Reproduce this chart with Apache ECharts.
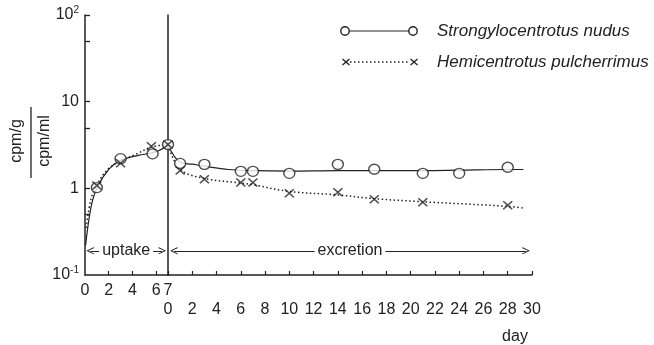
<!DOCTYPE html>
<html>
<head>
<meta charset="utf-8">
<title>Uptake and excretion</title>
<script src="https://cdn.jsdelivr.net/npm/echarts@6/dist/echarts.min.js"></script>
<style>
  html, body { margin: 0; padding: 0; background: #fff; }
  #chart { width: 654px; height: 345px; }
</style>
</head>
<body>
<div id="chart"></div>
<script>
// Tick values for the two time axes
const uptakeLabelDays = [0, 2, 4, 6, 7];
const uptakeTickDays = [2, 4, 6];
const yLabelValues = [0.1, 1, 10, 100];
const yTickValues = [0.5, 1, 5, 10, 50, 100];

// Strongylocentrotus nudus — measured points
const nudusUptakeDay = [1, 3, 5.7, 7];
const nudusUptake = [1.02, 2.2, 2.5, 3.2];
const nudusExcrDay = [1, 3, 6, 7, 10, 14, 17, 21, 24, 28];
const nudusExcr = [1.94, 1.89, 1.57, 1.57, 1.49, 1.89, 1.66, 1.49, 1.49, 1.75];

// Hemicentrotus pulcherrimus — measured points
const pulchUptakeDay = [1, 3, 5.6, 7];
const pulchUptake = [1.08, 1.95, 3.05, 3.2];
const pulchExcrDay = [1, 3, 6, 7, 10, 14, 17, 21, 28];
const pulchExcr = [1.61, 1.27, 1.17, 1.17, 0.875, 0.9, 0.75, 0.69, 0.64];

// Hand-fitted curves through each data set
const nudusUptakeFitDay = [0.05, 0.5, 1, 2, 3, 4.5, 6, 7];
const nudusUptakeFit = [0.22, 0.6, 1.0, 1.65, 2.1, 2.4, 2.65, 3.15];
const pulchUptakeFitDay = [0.1, 0.5, 1, 2, 3, 4.5, 5.6, 7];
const pulchUptakeFit = [0.35, 0.75, 1.1, 1.7, 2.05, 2.55, 3.0, 3.2];
const nudusExcrFitDay = [0, 1, 2, 3, 5, 7, 10, 14, 17, 21, 24, 28, 29.3];
const nudusExcrFit = [3.15, 2.0, 1.9, 1.8, 1.65, 1.6, 1.58, 1.6, 1.6, 1.6, 1.62, 1.65, 1.65];
const pulchExcrFitDay = [0, 1, 3, 6, 7, 10, 14, 17, 21, 28, 29.4];
const pulchExcrFit = [3.15, 1.65, 1.3, 1.15, 1.1, 0.92, 0.84, 0.76, 0.7, 0.62, 0.59];

// Phase annotations (day range of the arrow, level)
const uptakeSpan = [0.45, 6.5];
const excretionSpan = [0.5, 29.5];
const phaseLevel = 0.19;

const zip = (xs, ys) => xs.map((x, i) => [x, ys[i]]);

const INK = '#222';
const FONT = 'Liberation Sans, Arial, Helvetica, sans-serif';
const crossPath = 'path://M0,0L10,10M10,0L0,10';
const chevron = 'path://M5,0L10,9L9,10L5,2.5L1,10L0,9Z';

function yLabel(v) {
  if (v === 100) return '{b|10}{s|2}';
  if (v === 10) return '{b|10}';
  if (v === 1) return '{b|1}';
  return '{b|10}{s|-1}';
}

const chart = echarts.init(document.getElementById('chart'), null, { renderer: 'canvas' });

const logAxisBase = {
  type: 'log', logBase: 10, min: 0.1, max: 100,
  splitLine: { show: false }
};

const circleStyle = { color: '#fff', borderColor: INK, borderWidth: 1.4 };
const crossStyle = { color: 'none', borderColor: INK, borderWidth: 1.5 };

function legendCross(cx, cy) {
  return [
    { type: 'line', shape: { x1: cx - 3.5, y1: cy - 3, x2: cx + 3.5, y2: cy + 3 }, style: { stroke: INK, lineWidth: 1.3 } },
    { type: 'line', shape: { x1: cx + 3.5, y1: cy - 3, x2: cx - 3.5, y2: cy + 3 }, style: { stroke: INK, lineWidth: 1.3 } }
  ];
}

function phaseLabel(text) {
  return {
    show: true, position: 'middle', formatter: text, distance: 0,
    verticalAlign: 'middle', align: 'center',
    fontSize: 16, fontFamily: FONT, color: INK,
    backgroundColor: '#fff', padding: [0, 3]
  };
}

const option = {
  backgroundColor: '#fff',
  animation: false,
  textStyle: { fontFamily: FONT, color: INK },
  grid: [
    { left: 85, top: 15, width: 83, height: 260 },
    { left: 168, top: 15, width: 364, height: 260 }
  ],
  xAxis: [
    {
      type: 'value', gridIndex: 0, min: 0, max: 7,
      splitLine: { show: false },
      axisLine: { lineStyle: { color: INK, width: 1.5 } },
      axisTick: { inside: true, length: 4, customValues: uptakeTickDays, lineStyle: { color: INK, width: 1.2 } },
      axisLabel: { customValues: uptakeLabelDays, margin: 8, fontSize: 16, color: INK, fontFamily: FONT }
    },
    {
      type: 'value', gridIndex: 1, min: 0, max: 30, interval: 2,
      splitLine: { show: false },
      axisLine: { lineStyle: { color: INK, width: 1.5 } },
      axisTick: { inside: true, length: 4, lineStyle: { color: INK, width: 1.2 } },
      axisLabel: { margin: 27, fontSize: 16, color: INK, fontFamily: FONT, showMinLabel: true, showMaxLabel: true }
    }
  ],
  yAxis: [
    Object.assign({}, logAxisBase, {
      gridIndex: 0,
      axisLine: { show: true, lineStyle: { color: INK, width: 1.5 } },
      axisTick: { show: true, inside: true, length: 5, customValues: yTickValues, lineStyle: { color: INK, width: 1.3 } },
      axisLabel: {
        customValues: yLabelValues, margin: 6, color: INK,
        formatter: yLabel,
        rich: {
          b: { fontSize: 16, fontFamily: FONT, color: INK },
          s: { fontSize: 10, fontFamily: FONT, color: INK, padding: [0, 0, 9, 0] }
        }
      }
    }),
    Object.assign({}, logAxisBase, {
      gridIndex: 1,
      axisLine: { show: true, lineStyle: { color: INK, width: 1.5 } },
      axisTick: { show: false },
      axisLabel: { show: false }
    })
  ],
  series: [
    // fitted curves, uptake period
    {
      type: 'line', xAxisIndex: 0, yAxisIndex: 0, smooth: 0.35, symbol: 'none',
      data: zip(nudusUptakeFitDay, nudusUptakeFit),
      lineStyle: { color: INK, width: 1.2 },
      markLine: {
        silent: true, symbol: [chevron, chevron], symbolSize: [7, 8],
        lineStyle: { color: INK, width: 1, type: 'solid' },
        label: phaseLabel('uptake'),
        data: [[{ coord: [uptakeSpan[0], phaseLevel] }, { coord: [uptakeSpan[1], phaseLevel] }]]
      }
    },
    {
      type: 'line', xAxisIndex: 0, yAxisIndex: 0, smooth: 0.35, symbol: 'none',
      data: zip(pulchUptakeFitDay, pulchUptakeFit),
      lineStyle: { color: INK, width: 1.5, type: [1.5, 2.5] }
    },
    // fitted curves, excretion period
    {
      type: 'line', xAxisIndex: 1, yAxisIndex: 1, smooth: 0.35, symbol: 'none',
      data: zip(nudusExcrFitDay, nudusExcrFit),
      lineStyle: { color: INK, width: 1.2 },
      markLine: {
        silent: true, symbol: [chevron, chevron], symbolSize: [7, 8],
        lineStyle: { color: INK, width: 1, type: 'solid' },
        label: phaseLabel('excretion'),
        data: [[{ coord: [excretionSpan[0], phaseLevel] }, { coord: [excretionSpan[1], phaseLevel] }]]
      }
    },
    {
      type: 'line', xAxisIndex: 1, yAxisIndex: 1, smooth: 0.35, symbol: 'none',
      data: zip(pulchExcrFitDay, pulchExcrFit),
      lineStyle: { color: INK, width: 1.5, type: [1.5, 2.5] }
    },
    // measured points
    {
      type: 'scatter', xAxisIndex: 0, yAxisIndex: 0, symbol: crossPath, symbolSize: [9, 8],
      data: zip(pulchUptakeDay, pulchUptake), itemStyle: crossStyle, z: 4
    },
    {
      type: 'scatter', xAxisIndex: 0, yAxisIndex: 0, symbol: 'circle', symbolSize: [11, 10],
      data: zip(nudusUptakeDay, nudusUptake), itemStyle: circleStyle, z: 3
    },
    {
      type: 'scatter', xAxisIndex: 1, yAxisIndex: 1, symbol: 'circle', symbolSize: [11, 10],
      data: zip(nudusExcrDay, nudusExcr), itemStyle: circleStyle, z: 3
    },
    {
      type: 'scatter', xAxisIndex: 1, yAxisIndex: 1, symbol: crossPath, symbolSize: [9, 8],
      data: zip(pulchExcrDay, pulchExcr), itemStyle: crossStyle, z: 4
    }
  ],
  graphic: [
    // key
    { type: 'line', shape: { x1: 345, y1: 31, x2: 413, y2: 31 }, style: { stroke: INK, lineWidth: 1.2 } },
    { type: 'circle', shape: { cx: 345, cy: 31, r: 4.2 }, style: { fill: '#fff', stroke: INK, lineWidth: 1.4 } },
    { type: 'circle', shape: { cx: 413, cy: 31, r: 4.2 }, style: { fill: '#fff', stroke: INK, lineWidth: 1.4 } },
    { type: 'text', x: 437, y: 31, style: { text: 'Strongylocentrotus nudus', font: 'italic 17px ' + FONT, fill: INK, verticalAlign: 'middle' } },
    { type: 'line', shape: { x1: 350, y1: 62, x2: 410, y2: 62 }, style: { stroke: INK, lineWidth: 1.3, lineDash: [1.5, 2.5] } },
    ...legendCross(346, 62),
    ...legendCross(414, 62),
    { type: 'text', x: 437, y: 62, style: { text: 'Hemicentrotus pulcherrimus', font: 'italic 17px ' + FONT, fill: INK, verticalAlign: 'middle' } },
    // y-axis quantity as a fraction
    { type: 'text', x: 17, y: 141, rotation: Math.PI / 2, style: { text: 'cpm/g', font: '16px ' + FONT, fill: INK, align: 'center', verticalAlign: 'middle' } },
    { type: 'line', shape: { x1: 31, y1: 107, x2: 31, y2: 178 }, style: { stroke: INK, lineWidth: 1.3 } },
    { type: 'text', x: 45, y: 141, rotation: Math.PI / 2, style: { text: 'cpm/ml', font: '16px ' + FONT, fill: INK, align: 'center', verticalAlign: 'middle' } },
    // time unit
    { type: 'text', x: 515, y: 337, style: { text: 'day', font: '16px ' + FONT, fill: INK, align: 'center', verticalAlign: 'middle' } }
  ]
};

chart.setOption(option);
</script>
</body>
</html>
